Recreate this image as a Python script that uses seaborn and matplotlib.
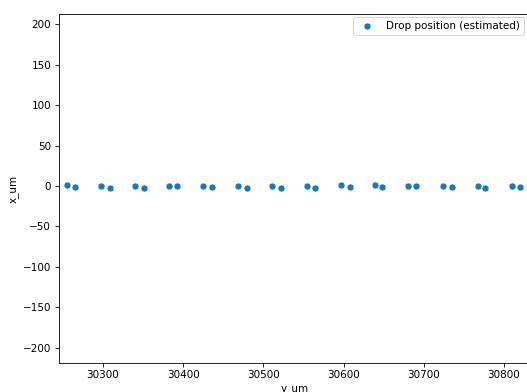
import numpy as np
import pandas as pd
import seaborn as sns
import matplotlib.pyplot as plt

# estimated drop positions (um)
y_um = [30255.1, 30265.6, 30297.1, 30309.2, 30339.5, 30350.7, 30381.9, 30392.3,
        30424.7, 30435.9, 30468.3, 30479.6, 30511.2, 30522.4, 30554.9, 30564.8,
        30597.3, 30608.0, 30639.4, 30648.4, 30680.5, 30690.8, 30723.9, 30735.4,
        30767.0, 30776.9, 30809.4, 30819.6]
x_um = [0.9, -0.8, 0.5, -2.0, 0.0, -2.0, 0.0, 0.0,
        0.5, -1.6, 0.0, -2.0, 0.0, -2.9, -0.4, -2.0,
        0.9, -0.8, 0.9, -1.6, 0.5, -0.4, 0.0, -1.2,
        0.5, -2.0, 0.5, -1.6]

df = pd.DataFrame({"y_um": y_um, "x_um": x_um})

fig = plt.figure(figsize=(527 / 75, 392 / 75), dpi=75)
ax = fig.add_axes([58.5 / 527, 29 / 392, (531 - 58.5) / 527, (363 - 14) / 392])
sns.scatterplot(data=df, x="y_um", y="x_um", ax=ax, s=45, label="Drop position (estimated)")
ax.set_xlim(30244.5, 30833.7)
ax.set_ylim(-218.6, 212.4)
ax.legend(loc="upper right", bbox_to_anchor=(524 / 527, (392 - 17) / 392),
          bbox_transform=fig.transFigure, borderaxespad=0)

fig.savefig("out.png", dpi=75)
